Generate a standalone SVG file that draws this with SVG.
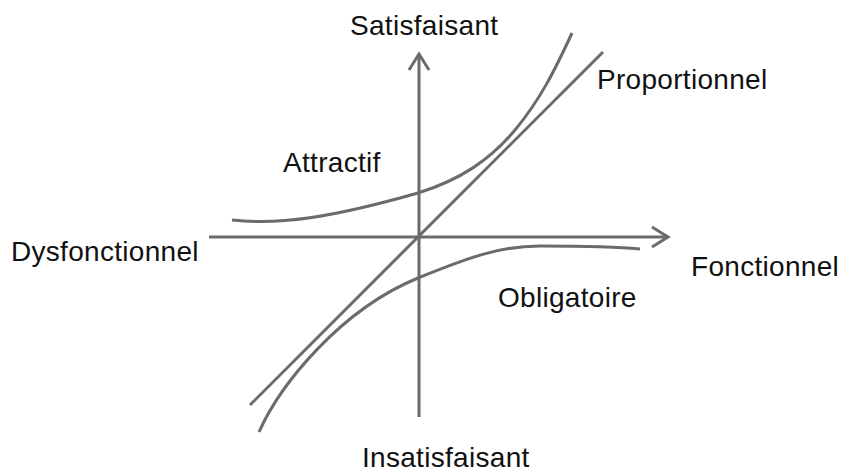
<svg xmlns="http://www.w3.org/2000/svg" width="845" height="474" viewBox="0 0 845 474">
<style>
.ln{fill:none;stroke:#6b6b6b;stroke-width:3;stroke-linecap:butt;stroke-linejoin:round}
.lb{font-family:"Liberation Sans",Arial,Helvetica,sans-serif;font-size:28px;fill:#111;letter-spacing:0.3px}
</style>
<defs>
<marker id="arr" markerUnits="userSpaceOnUse" viewBox="-20 -14 24 28" refX="0" refY="0" markerWidth="24" markerHeight="28" orient="auto">
<path d="M-16,-10 L0,0 L-16,10" fill="none" stroke="#6b6b6b" stroke-width="3" stroke-linejoin="miter"/>
</marker>
</defs>
<rect width="845" height="474" fill="#fff"/>
<g id="connectors">
<line id="axis-y" class="ln" x1="419" y1="417" x2="419" y2="54" marker-end="url(#arr)"/>
<line id="axis-x" class="ln" x1="209" y1="237" x2="668" y2="237" marker-end="url(#arr)"/>
<line id="proportionnel-line" class="ln" x1="250" y1="405" x2="603" y2="52"/>
<path id="attractif-curve" class="ln" d="M232,220 C280,225 330,218 418,193 C460,180 490,160 515,130 C540,100 555,70 572,33"/>
<path id="obligatoire-curve" class="ln" d="M259,432 C280,385 340,310 418,278 C470,257 500,246 540,246 C580,246 620,247 640,249"/>
</g>
<g id="satisfaisant"><text class="lb" x="350" y="35">Satisfaisant</text></g>
<g id="insatisfaisant"><text class="lb" x="362" y="467">Insatisfaisant</text></g>
<g id="dysfonctionnel"><text class="lb" x="11" y="261">Dysfonctionnel</text></g>
<g id="fonctionnel"><text class="lb" x="691" y="276">Fonctionnel</text></g>
<g id="proportionnel"><text class="lb" x="597" y="89">Proportionnel</text></g>
<g id="attractif"><text class="lb" x="283" y="172">Attractif</text></g>
<g id="obligatoire"><text class="lb" x="498" y="307">Obligatoire</text></g>
</svg>
